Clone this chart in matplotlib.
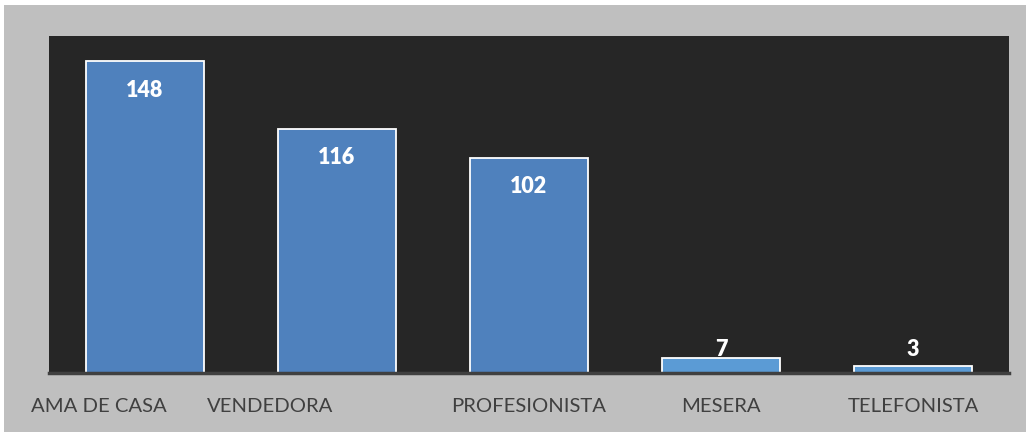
"""Bar chart: occupation counts."""

import matplotlib

matplotlib.use("Agg")
import matplotlib.pyplot as plt
from matplotlib.patches import Rectangle
from matplotlib.transforms import offset_copy

categories = ["AMA DE CASA", "VENDEDORA", "PROFESIONISTA", "MESERA", "TELEFONISTA"]
counts = [148, 116, 102, 7, 3]

# styling
bar_colors = ["#4f81bd", "#4f81bd", "#4f81bd", "#5b9bd5", "#5b9bd5"]
label_shift_px = [-46, -67, 0, 0, 0]  # category labels are not centred in the original
W, H, DPI = 1026, 432, 100

plt.rcParams["font.family"] = ["Lato", "DejaVu Sans"]

fig = plt.figure(figsize=(W / DPI, H / DPI), dpi=DPI, facecolor="white")
fig.patches.append(
    Rectangle((4 / W, 0), 1 - 4 / W, 1 - 5 / H, transform=fig.transFigure,
              facecolor="#bfbfbf", edgecolor="none", zorder=-10)
)

ax = fig.add_axes([49 / W, (H - 372.5) / H, 960 / W, (372.5 - 36) / H])
ax.set_facecolor("#262626")

x = range(len(categories))
bars = ax.bar(x, counts, width=0.61, color=bar_colors, edgecolor="white", linewidth=1.3)
ax.set_xlim(-0.5, len(categories) - 0.5)
ax.set_ylim(0, 160)

for rect, value in zip(bars, counts):
    cx = rect.get_x() + rect.get_width() / 2
    if value > 20:
        ax.annotate(str(value), (cx, value), xytext=(0, -29), textcoords="offset pixels",
                    ha="center", va="center", color="white", fontsize=15.5, fontweight="heavy")
    else:
        ax.annotate(str(value), (cx, max(value, 7)), xytext=(0, -2), textcoords="offset pixels",
                    ha="center", va="bottom", color="white", fontsize=15.5, fontweight="heavy")

ax.set_xticks([])
ax.set_yticks([])
for side in ["top", "left", "right"]:
    ax.spines[side].set_visible(False)
ax.spines["bottom"].set_color("#404040")
ax.spines["bottom"].set_linewidth(2.5)

for i, (name, shift) in enumerate(zip(categories, label_shift_px)):
    tr = offset_copy(ax.get_xaxis_transform(), fig=fig, x=shift, y=-34, units="dots")
    ax.text(i, 0, name, transform=tr, ha="center", va="center",
            color="#404040", fontsize=14.6)

fig.savefig("out.png", dpi=DPI, facecolor=fig.get_facecolor())
plt.close(fig)
